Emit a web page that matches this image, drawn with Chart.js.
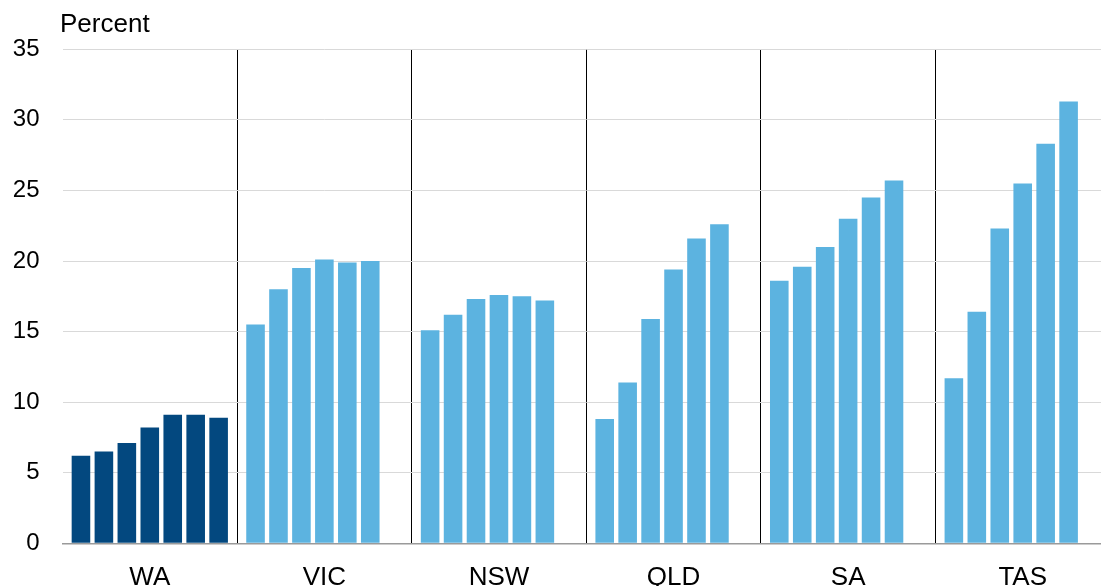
<!DOCTYPE html>
<html>
<head>
<meta charset="utf-8">
<script src="https://cdn.jsdelivr.net/npm/chart.js@4/dist/chart.umd.min.js"></script>
<style>
  html, body { margin: 0; padding: 0; background: #fff; overflow: hidden; }
  #wrap { width: 1101px; height: 586px; overflow: hidden; position: relative; }
  canvas { display: block; }
</style>
</head>
<body>
<div id="wrap"><canvas id="c" width="1110" height="600"></canvas></div>
<script>
// ---- Data ----
const categories = ['WA', 'VIC', 'NSW', 'QLD', 'SA', 'TAS'];
const wa  = [6.2, 6.5, 7.1, 8.2, 9.1, 9.1, 8.9];
const vic = [15.5, 18.0, 19.5, 20.1, 19.9, 20.0];
const nsw = [15.1, 16.2, 17.3, 17.6, 17.5, 17.2];
const qld = [8.8, 11.4, 15.9, 19.4, 21.6, 22.6];
const sa  = [18.6, 19.6, 21.0, 23.0, 24.5, 25.7];
const tas = [11.7, 16.4, 22.3, 25.5, 28.3, 31.3];
const yTicks = [0, 5, 10, 15, 20, 25, 30, 35];
const yTitle = 'Percent';

// ---- Styles ----
const darkBlue = '#03487f';
const lightBlue = '#5cb3e0';
const FONT = '"Liberation Sans", Arial, sans-serif';

const states = [wa, vic, nsw, qld, sa, tas];
const slots = Math.max(...states.map(s => s.length));
const catColors = categories.map((c, i) => i === 0 ? darkBlue : lightBlue);

const datasets = [];
for (let k = 0; k < slots; k++) {
  datasets.push({
    label: 'slot' + (k + 1),
    data: states.map(s => (k < s.length ? s[k] : null)),
    backgroundColor: catColors,
    borderWidth: 0,
    categoryPercentage: 0.92,
    barPercentage: 0.81
  });
}

const percentLabel = {
  id: 'percentLabel',
  afterDraw(chart) {
    const ctx = chart.ctx;
    ctx.save();
    ctx.font = '26px ' + FONT;
    ctx.fillStyle = '#000';
    ctx.textAlign = 'left';
    ctx.textBaseline = 'alphabetic';
    ctx.fillText(yTitle, chart.chartArea.left - 2.5, 31.5);
    ctx.restore();
  }
};

new Chart(document.getElementById('c'), {
  type: 'bar',
  data: { labels: categories, datasets },
  plugins: [percentLabel],
  options: {
    responsive: false,
    animation: false,
    devicePixelRatio: 1,
    layout: { padding: { top: 49.3, left: 0, right: 0, bottom: 0 } },
    plugins: { legend: { display: false }, tooltip: { enabled: false }, title: { display: false } },
    scales: {
      x: {
        offset: true,
        grid: {
          offset: true,
          drawTicks: false,
          lineWidth: 1,
          color: (ctx) => (ctx.index > 0 && ctx.index < categories.length) ? '#000000' : 'rgba(0,0,0,0)'
        },
        border: { display: true, color: '#9a9a9a', width: 1.5 },
        ticks: { color: '#000', font: { size: 26, family: FONT }, padding: 19, maxRotation: 0, autoSkip: false },
        afterFit: (s) => { s.height = 56.7; }
      },
      y: {
        min: 0,
        max: 35,
        afterBuildTicks: (s) => { s.ticks = yTicks.map(v => ({ value: v })); },
        grid: { color: '#d9d9d9', lineWidth: 1, drawTicks: false },
        border: { display: false },
        ticks: { color: '#000', font: { size: 24, family: FONT }, padding: 23 },
        afterFit: (s) => { s.width = 62.5; }
      }
    }
  }
});
</script>
</body>
</html>
